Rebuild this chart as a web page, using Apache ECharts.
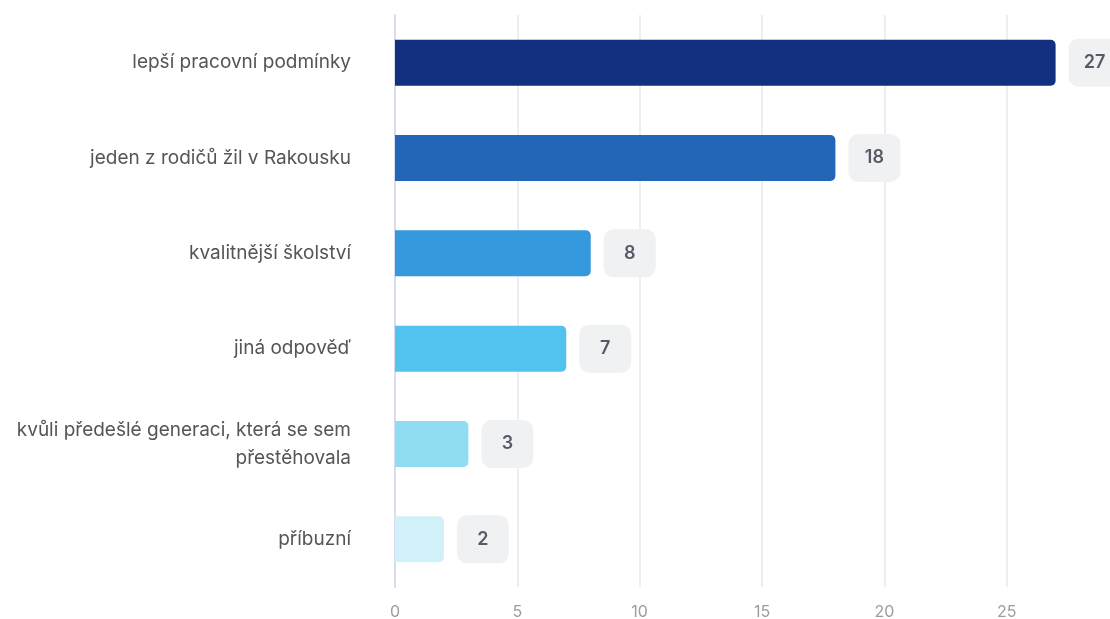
<!DOCTYPE html>
<html>
<head>
<meta charset="utf-8">
<script src="https://cdn.jsdelivr.net/npm/echarts@6/dist/echarts.min.js"></script>
<style>
  html, body { margin: 0; padding: 0; background: #ffffff; }
  #chart { width: 1110px; height: 619px; }
</style>
</head>
<body>
<div id="chart"></div>
<script>
// Survey answers (top to bottom) and their counts
const categories = [
  'lepší pracovní podmínky',
  'jeden z rodičů žil v Rakousku',
  'kvalitnější školství',
  'jiná odpověď',
  'kvůli předešlé generaci, která se sem\npřestěhovala',
  'příbuzní'
];
const counts = [27, 18, 8, 7, 3, 2];
const barColors = ['#12307f', '#2366b8', '#3799dd', '#52c3ee', '#90ddf3', '#d1f1f9'];

const chart = echarts.init(document.getElementById('chart'), null, { renderer: 'canvas' });

chart.setOption({
  animation: false,
  textStyle: { fontFamily: 'Inter, "Noto Sans", sans-serif' },
  // the value axis runs on past the right edge of the canvas
  grid: { left: 395, right: -19, top: 15, bottom: 32, containLabel: false, outerBoundsMode: 'none' },
  xAxis: {
    type: 'value',
    min: 0,
    max: 30,
    interval: 5,
    axisLine: { show: false },
    axisTick: { show: false },
    splitLine: { show: true, lineStyle: { color: '#e7e8ec', width: 1.5 } },
    axisLabel: { color: '#9c9c9c', fontSize: 16, margin: 17, fontFamily: 'Inter' }
  },
  yAxis: {
    type: 'category',
    inverse: true,
    data: categories,
    axisLine: { show: true, lineStyle: { color: '#d9dcef', width: 2 } },
    axisTick: { show: false },
    axisLabel: {
      color: '#555555',
      fontSize: 19,
      margin: 44,
      lineHeight: 28,
      align: 'right',
      padding: [3, 0, 0, 0],
      fontFamily: 'Inter'
    }
  },
  series: [{
    type: 'bar',
    barWidth: 46,
    data: counts.map((v, i) => ({ value: v, itemStyle: { color: barColors[i] } })),
    itemStyle: { borderRadius: [0, 5, 5, 0] },
    label: {
      show: true,
      position: 'right',
      distance: 13,
      formatter: '{box|{c}}',
      rich: {
        box: {
          width: 52,
          height: 48,
          lineHeight: 48,
          align: 'center',
          verticalAlign: 'middle',
          backgroundColor: '#f0f1f2',
          borderRadius: 10,
          color: '#555b66',
          fontSize: 18,
          fontWeight: 600,
          fontFamily: 'Inter'
        }
      }
    }
  }]
});
</script>
</body>
</html>
